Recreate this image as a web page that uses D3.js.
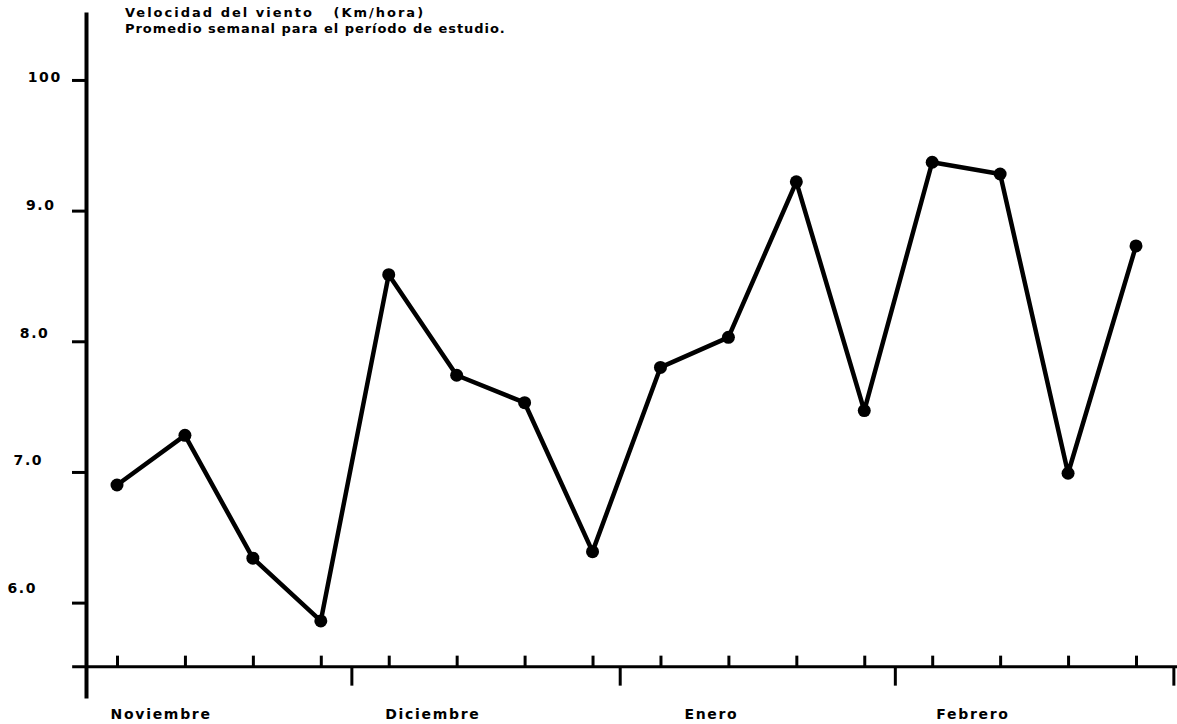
<!DOCTYPE html>
<html>
<head>
<meta charset="utf-8">
<script src="https://cdn.jsdelivr.net/npm/d3@7"></script>
<style>
  body { margin: 0; background: #fff; }
  text { font-family: "DejaVu Sans", sans-serif; font-weight: bold; fill: #000; white-space: pre; }
</style>
</head>
<body>
<div id="chart"></div>
<script>
// weekly average wind speed, Nov - Feb
const weeks = d3.range(16);
const windSpeed = [6.90, 7.28, 6.34, 5.86, 8.51, 7.74, 7.53, 6.39, 7.80, 8.03, 9.22, 7.47, 9.37, 9.28, 6.99, 8.73];
const months = ["Noviembre", "Diciembre", "Enero", "Febrero"];
const monthLabelAt = [0.65, 4.65, 8.75, 12.6];
const monthEdges = [3.45, 7.4, 11.45, 15.55];
const yTicks = [6, 7, 8, 9, 10];
const yTickLabels = ["6.0", "7.0", "8.0", "9.0", "100"];
const titleLines = ["Velocidad del viento   (Km/hora)", "Promedio semanal para el período de estudio."];

const width = 1177, height = 724;

const svg = d3.select("#chart")
  .append("svg")
  .attr("width", width)
  .attr("height", height);

const x = d3.scaleLinear()
  .domain([0, 15])
  .range([117, 1136]);

const y = d3.scaleLinear()
  .domain([5.27, 10.52])
  .range([698, 12]);

const axisX = 86;
const baseY = y(5.51);

// Y axis
const yAxis = svg.append("g")
  .attr("transform", `translate(${axisX},0)`)
  .call(d3.axisLeft(y).tickValues(yTicks).tickSize(14).tickSizeOuter(0)
    .tickFormat((d, i) => yTickLabels[i]));

yAxis.select(".domain").attr("stroke", "#000").attr("stroke-width", 4);
yAxis.selectAll(".tick line").attr("stroke", "#000").attr("stroke-width", 3);
// labels drift a bit in the scan
yAxis.selectAll(".tick text")
  .attr("x", d => 37 + (d - 6) * 6.2 - axisX)
  .attr("y", d => -3 - (10 - d) * 3)
  .attr("dy", "0.36em")
  .attr("font-size", "14px")
  .attr("letter-spacing", "1.6px")
  .attr("font-family", "DejaVu Sans")
  .attr("font-weight", "bold");

// X axis line
svg.append("line")
  .attr("x1", x(-0.66))
  .attr("x2", width)
  .attr("y1", baseY)
  .attr("y2", baseY)
  .attr("stroke", "#000")
  .attr("stroke-width", 3);

// weekly ticks (up)
const weekAxis = svg.append("g")
  .attr("transform", `translate(0,${baseY})`)
  .call(d3.axisBottom(x).tickValues(weeks).tickSize(-11).tickFormat(""));
weekAxis.select(".domain").remove();
weekAxis.selectAll(".tick line").attr("stroke", "#000").attr("stroke-width", 3);

// month boundaries (down)
const monthAxis = svg.append("g")
  .attr("transform", `translate(0,${baseY})`)
  .call(d3.axisBottom(x).tickValues(monthEdges).tickSize(19).tickFormat(""));
monthAxis.select(".domain").remove();
monthAxis.selectAll(".tick line").attr("stroke", "#000").attr("stroke-width", 3);

// month names
svg.selectAll(".month")
  .data(months)
  .enter()
  .append("text")
  .attr("class", "month")
  .attr("x", (d, i) => x(monthLabelAt[i]))
  .attr("y", 719)
  .attr("text-anchor", "middle")
  .attr("font-size", "14px")
  .attr("letter-spacing", "1.7px")
  .text(d => d);

// line
const line = d3.line()
  .x((d, i) => x(weeks[i]))
  .y(d => y(d));

svg.append("path")
  .datum(windSpeed)
  .attr("fill", "none")
  .attr("stroke", "#000")
  .attr("stroke-width", 4.5)
  .attr("stroke-linejoin", "round")
  .attr("d", line);

svg.selectAll(".dot")
  .data(windSpeed)
  .enter()
  .append("circle")
  .attr("class", "dot")
  .attr("cx", (d, i) => x(weeks[i]))
  .attr("cy", d => y(d))
  .attr("r", 6.5)
  .attr("fill", "#000");

// title
svg.selectAll(".title")
  .data(titleLines)
  .enter()
  .append("text")
  .attr("class", "title")
  .attr("x", 125)
  .attr("y", (d, i) => 17 + i * 15.5)
  .attr("font-size", "13px")
  .attr("letter-spacing", (d, i) => i === 0 ? "2px" : "0.95px")
  .text(d => d);
</script>
</body>
</html>
